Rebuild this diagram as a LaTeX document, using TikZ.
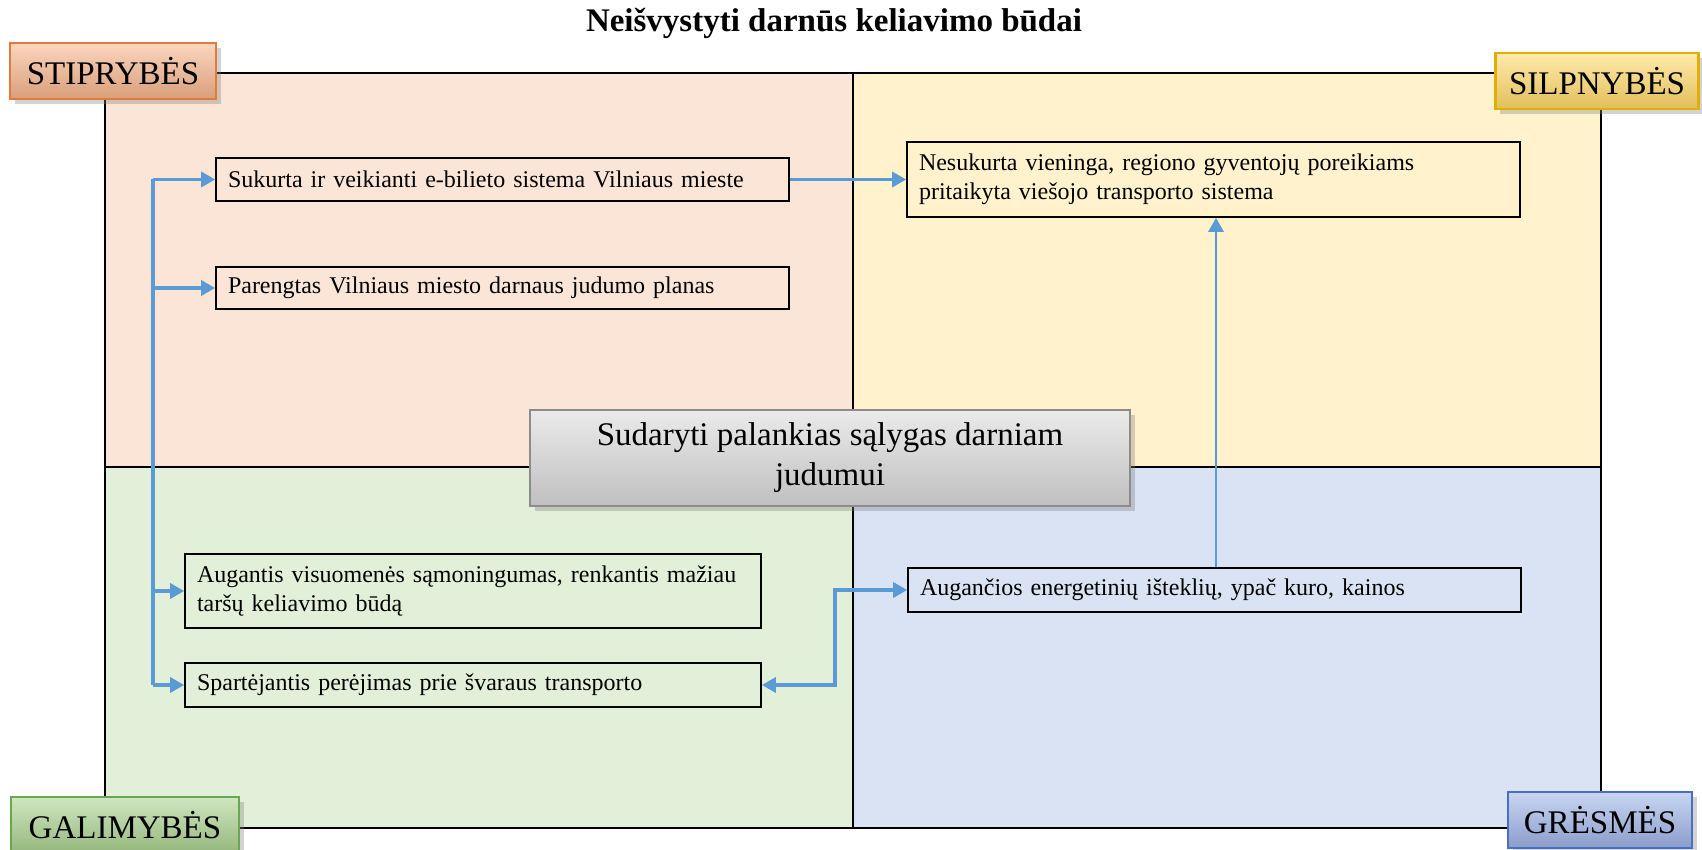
\documentclass[tikz,border=0pt]{standalone}
\usepackage{fontspec}
\setmainfont{Liberation Serif}
\usetikzlibrary{arrows.meta,shadows}

\definecolor{stipfill}{HTML}{FBE5D6}
\definecolor{silpfill}{HTML}{FFF2CC}
\definecolor{galifill}{HTML}{E2F0D9}
\definecolor{gresfill}{HTML}{DAE3F3}
\definecolor{stiptag}{HTML}{F7B48A}
\definecolor{stipedge}{HTML}{E07B39}
\definecolor{silptag}{HTML}{FFD966}
\definecolor{silpedge}{HTML}{E3AE00}
\definecolor{galitag}{HTML}{A9D18E}
\definecolor{galiedge}{HTML}{6AA84F}
\definecolor{grestag}{HTML}{9DB3E6}
\definecolor{gresedge}{HTML}{4A6FC0}
\definecolor{flowcol}{HTML}{5B9BD5}

\tikzset{
	item/.style={ draw=black, line width=0.8pt, align=left, inner xsep=6pt, inner ysep=2pt, font=\fontsize{12}{14.5}\selectfont },
	tag/.style={ draw=#1edge, line width=1.2pt, top color=#1tag!55!white, middle color=#1tag, bottom color=#1tag!88!black, inner xsep=3pt, minimum height=28pt, font=\fontsize{16.5}{20}\selectfont, drop shadow={ opacity=0.35 } },
	goal/.style={ draw=black!45, line width=1pt, top color=black!8, bottom color=black!25, align=center, minimum width=300pt, minimum height=48pt, font=\fontsize{16.5}{20}\selectfont, drop shadow={ opacity=0.35 } },
	flowline/.style={ draw=flowcol, line width=1.6pt },
	flow/.style={ flowline, -{Triangle[length=7pt,width=7.5pt]} },
}

\begin{document}
\begin{tikzpicture}[ x=0.5pt, y=-0.5pt ]
	  \useasboundingbox (0,0) rectangle (1702,850);

	  \fill [ stipfill ] (105,73) rectangle (853,467);
	  \fill [ silpfill ] (853,73) rectangle (1601,467);
	  \fill [ galifill ] (105,467) rectangle (853,828);
	  \fill [ gresfill ] (853,467) rectangle (1601,828);
	  \draw [ line width=0.8pt ] (105,73) rectangle (1601,828);
	  \draw [ line width=0.8pt ] (853,73)--(853,828);
	  \draw [ line width=0.8pt ] (105,467)--(1601,467);

	  \node [ font=\fontsize{16.5}{20}\selectfont\bfseries ] (title) at (834,23) {Neišvystyti darnūs keliavimo būdai};

	  \node [ tag=stip, minimum width=103pt ] (stiprybes) at (113,71) {STIPRYBĖS};
	  \node [ tag=silp, minimum width=101.5pt ] (silpnybes) at (1597,81) {SILPNYBĖS};
	  \node [ tag=gali, minimum width=114pt ] (galimybes) at (125,825) {GALIMYBĖS};
	  \node [ tag=gres, minimum width=92pt ] (gresmes) at (1600,820) {GRĖSMĖS};

	  \node [ item, text width=274.5pt, minimum height=21.5pt ] (sukurta) at (502.5,179.5) {Sukurta ir veikianti e-bilieto sistema Vilniaus mieste};
	  \node [ item, text width=274.5pt, minimum height=21pt ] (parengtas) at (502.5,288) {Parengtas Vilniaus miesto darnaus judumo planas};
	  \node [ item, text width=294.5pt, minimum height=37.5pt ] (nesukurta) at (1213.5,179.5) {Nesukurta vieninga, regiono gyventojų poreikiams\\pritaikyta viešojo transporto sistema};
	  \node [ item, text width=276pt, minimum height=37pt ] (augantis) at (473,591) {Augantis visuomenės sąmoningumas, renkantis mažiau\\taršų keliavimo būdą};
	  \node [ item, text width=276pt, minimum height=22pt ] (spartejantis) at (473,685) {Spartėjantis perėjimas prie švaraus transporto};
	  \node [ item, text width=294.5pt, minimum height=22pt ] (kainos) at (1214.5,590) {Augančios energetinių išteklių, ypač kuro, kainos};

	  \node [ goal ] (tikslas) at (830,458) {Sudaryti palankias sąlygas darniam\\judumui};

	  \coordinate (trunk) at (153,0);
	  \coordinate (bend) at (835,0);
	  \coordinate (riser) at (1216,0);

	  \draw [ flowline ] (sukurta.west -| trunk)--(spartejantis.west -| trunk);
	  \draw [ flow ] (sukurta.west -| trunk)--(sukurta.west);
	  \draw [ flow ] (parengtas.west -| trunk)--(parengtas.west);
	  \draw [ flow ] (augantis.west -| trunk)--(augantis.west);
	  \draw [ flow ] (spartejantis.west -| trunk)--(spartejantis.west);
	  \draw [ flow ] (sukurta.east)--(nesukurta.west);
	  \draw [ flow, {Triangle[length=7pt,width=7.5pt]}-{Triangle[length=7pt,width=7.5pt]} ] (spartejantis.east)--(spartejantis.east -| bend)|-(kainos.west);
	  \draw [ flow, line width=1.4pt ] (kainos.north -| riser)--(nesukurta.south -| riser);
\end{tikzpicture}
\end{document}
